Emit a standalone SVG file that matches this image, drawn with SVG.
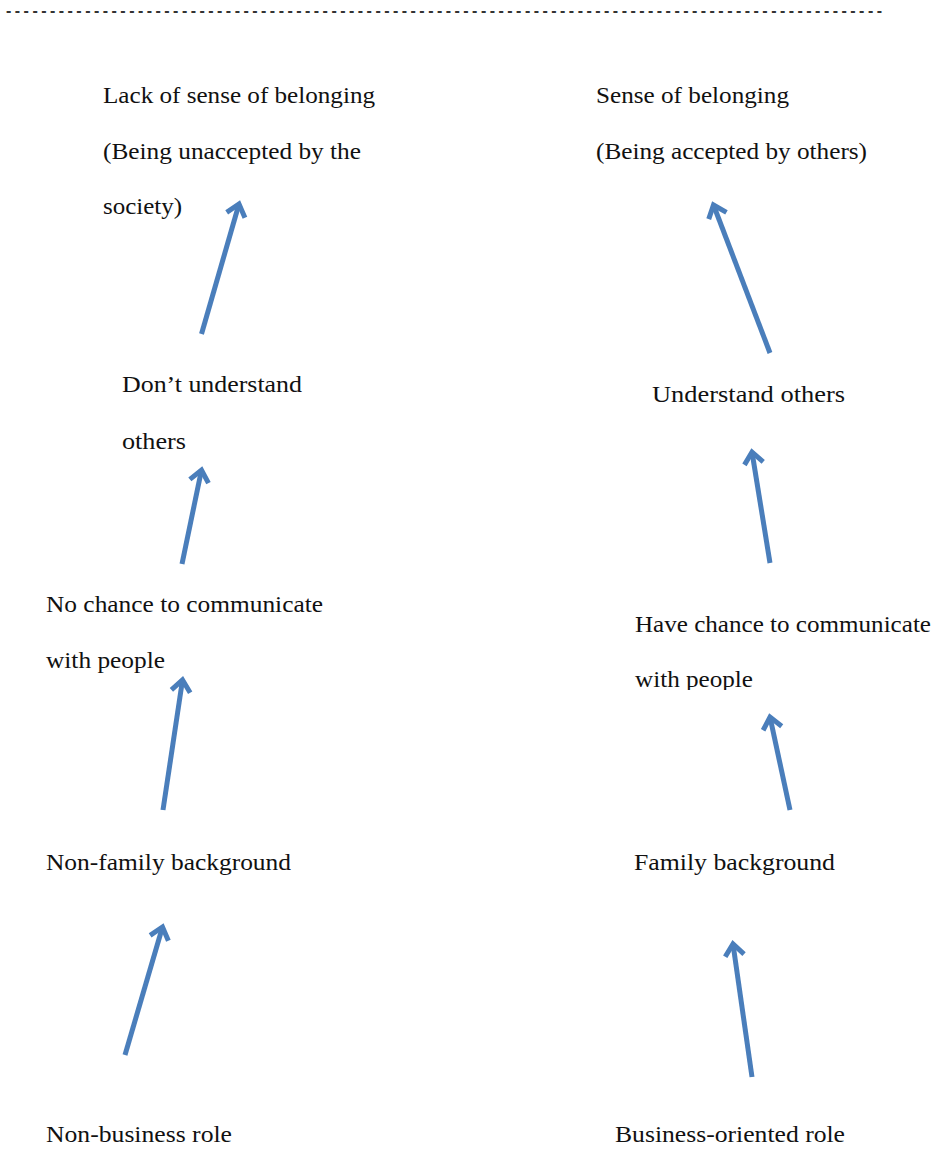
<svg xmlns="http://www.w3.org/2000/svg" width="938" height="1149" viewBox="0 0 938 1149">
  <style>
    .lbl { font-family: "Liberation Serif", "Times New Roman", serif; font-size: 24px; fill: #111; }
    .rule { font-family: "Liberation Sans", Arial, sans-serif; font-size: 16px; font-weight: bold; fill: #333; }
    .arrow { stroke: #4a7ebb; stroke-width: 5; fill: none; stroke-linecap: butt; marker-end: url(#head); }
  </style>
  <defs>
    <marker id="head" markerUnits="userSpaceOnUse" markerWidth="30" markerHeight="30" refX="0" refY="0" viewBox="-16 -15 20 30" orient="auto" overflow="visible">
      <path d="M-11.5,-9.5 L0,0 L-11.5,9.5" fill="none" stroke="#4a7ebb" stroke-width="5" stroke-linejoin="miter" stroke-linecap="butt"/>
    </marker>
    <clipPath id="cut-right-3">
      <rect x="600" y="600" width="338" height="90"/>
    </clipPath>
  </defs>

  <rect width="938" height="1149" fill="#ffffff"/>

  <!-- rule of hyphens across the top -->
  <text class="rule" x="6" y="16" textLength="876" lengthAdjust="spacing">----------------------------------------------------------------------------------------------------</text>

  <!-- left chain -->
  <g id="lack-belonging">
    <text class="lbl" x="103" y="103" textLength="272" lengthAdjust="spacingAndGlyphs">Lack of sense of belonging</text>
    <text class="lbl" x="103" y="159" textLength="258" lengthAdjust="spacingAndGlyphs">(Being unaccepted by the</text>
    <text class="lbl" x="103" y="214" textLength="79" lengthAdjust="spacingAndGlyphs">society)</text>
  </g>
  <g id="dont-understand">
    <text class="lbl" x="122" y="392" textLength="180" lengthAdjust="spacingAndGlyphs">Don’t understand</text>
    <text class="lbl" x="122" y="449" textLength="64" lengthAdjust="spacingAndGlyphs">others</text>
  </g>
  <g id="no-chance">
    <text class="lbl" x="46" y="612" textLength="277" lengthAdjust="spacingAndGlyphs">No chance to communicate</text>
    <text class="lbl" x="46" y="668" textLength="119" lengthAdjust="spacingAndGlyphs">with people</text>
  </g>
  <g id="non-family">
    <text class="lbl" x="46" y="870" textLength="245" lengthAdjust="spacingAndGlyphs">Non-family background</text>
  </g>
  <g id="non-business">
    <text class="lbl" x="46" y="1142" textLength="186" lengthAdjust="spacingAndGlyphs">Non-business role</text>
  </g>

  <!-- right chain -->
  <g id="sense-belonging">
    <text class="lbl" x="596" y="103" textLength="193" lengthAdjust="spacingAndGlyphs">Sense of belonging</text>
    <text class="lbl" x="596" y="159" textLength="271" lengthAdjust="spacingAndGlyphs">(Being accepted by others)</text>
  </g>
  <g id="understand-others">
    <text class="lbl" x="652" y="402" textLength="193" lengthAdjust="spacingAndGlyphs">Understand others</text>
  </g>
  <g id="have-chance" clip-path="url(#cut-right-3)">
    <text class="lbl" x="635" y="632" textLength="296" lengthAdjust="spacingAndGlyphs">Have chance to communicate</text>
    <text class="lbl" x="635" y="687" textLength="118" lengthAdjust="spacingAndGlyphs">with people</text>
  </g>
  <g id="family">
    <text class="lbl" x="634" y="870" textLength="201" lengthAdjust="spacingAndGlyphs">Family background</text>
  </g>
  <g id="business">
    <text class="lbl" x="615" y="1142" textLength="230" lengthAdjust="spacingAndGlyphs">Business-oriented role</text>
  </g>

  <!-- connectors -->
  <g id="connectors">
    <line class="arrow" x1="201.5" y1="334" x2="239" y2="204"/>
    <line class="arrow" x1="182" y1="564" x2="201.5" y2="470"/>
    <line class="arrow" x1="163" y1="810" x2="182.5" y2="680"/>
    <line class="arrow" x1="125" y1="1055" x2="162.5" y2="927"/>

    <line class="arrow" x1="770" y1="353" x2="713.5" y2="205"/>
    <line class="arrow" x1="770" y1="563" x2="752" y2="452"/>
    <line class="arrow" x1="790" y1="810" x2="770" y2="717"/>
    <line class="arrow" x1="752" y1="1077" x2="733" y2="944"/>
  </g>
</svg>
